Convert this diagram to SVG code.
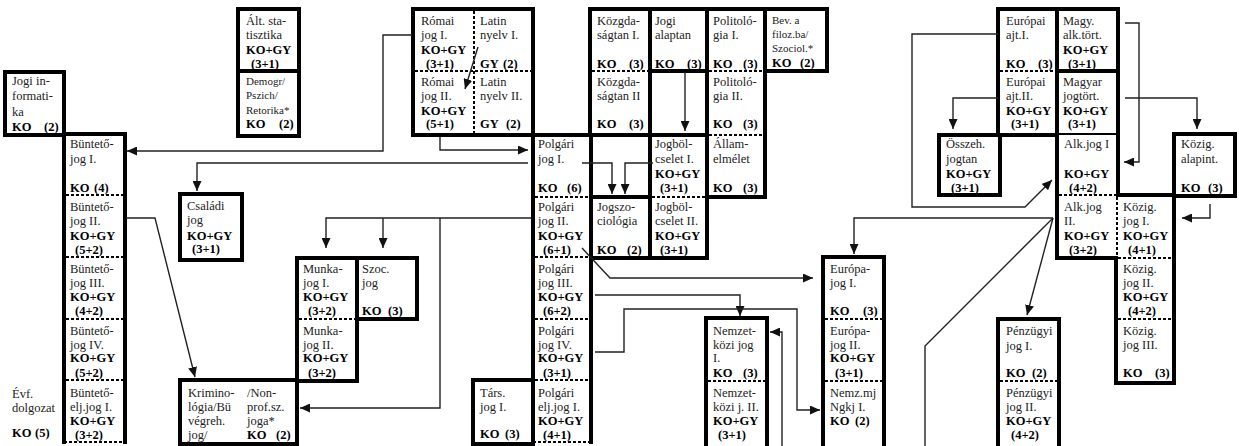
<svg xmlns="http://www.w3.org/2000/svg" width="1239" height="446" viewBox="0 0 1239 446">
<style>
.t{font-family:"Liberation Serif","Times New Roman",serif;font-size:12.5px;fill:#222}
.b{font-weight:bold;fill:#000}
.s{font-size:11px}
.bx{fill:#fff;stroke:#000;stroke-width:4}
.th{fill:none;stroke:#000;stroke-width:4;stroke-linecap:square}
.dv{fill:none;stroke:#000;stroke-width:2;stroke-dasharray:3 2}
.c{fill:none;stroke:#222;stroke-width:1.4}
.a{marker-end:url(#ah)}
</style>
<defs>
<marker id="ah" markerUnits="userSpaceOnUse" markerWidth="10" markerHeight="9" refX="10" refY="4.5" orient="auto"><path d="M0,0 L10,4.5 L0,9 z" fill="#111"/></marker>
</defs>
<rect width="1239" height="446" fill="#fff"/>

<g id="jogi-informatika">
<rect class="bx" x="5" y="72" width="59" height="63"/>
<text class="t" x="12" y="85">Jogi in-</text><text class="t" x="12" y="100">formati-</text><text class="t" x="12" y="116">ka</text>
<text class="t b" x="12" y="131">KO<tspan x="44">(2)</tspan></text>
</g>

<g id="evf-dolgozat">
<text class="t" x="12" y="398">Évf.</text><text class="t" x="12" y="412">dolgozat</text>
<text class="t b" x="12" y="437">KO<tspan x="35">(5)</tspan></text>
</g>

<g id="buntetojog">
<rect x="64" y="134" width="61" height="308" fill="#fff"/>
<path class="th" d="M64,442 V134 H125 V442"/>
<path class="dv" d="M66,195 H123 M66,257 H123 M66,319 H123 M66,380 H123 M64,442 H125"/>
<g id="buntetojog-1"><text class="t" x="70" y="148">Büntető-</text><text class="t" x="70" y="163">jog I.</text><text class="t b" x="70" y="192">KO<tspan x="94">(4)</tspan></text></g>
<g id="buntetojog-2"><text class="t" x="70" y="211">Büntető-</text><text class="t" x="70" y="225">jog II.</text><text class="t b" x="70" y="240">KO+GY</text><text class="t b" x="75" y="254">(5+2)</text></g>
<g id="buntetojog-3"><text class="t" x="70" y="273">Büntető-</text><text class="t" x="70" y="287">jog III.</text><text class="t b" x="70" y="301">KO+GY</text><text class="t b" x="75" y="315">(4+2)</text></g>
<g id="buntetojog-4"><text class="t" x="70" y="335">Büntető-</text><text class="t" x="70" y="349">jog IV.</text><text class="t b" x="70" y="362">KO+GY</text><text class="t b" x="75" y="377">(5+2)</text></g>
<g id="buntetoelj-1"><text class="t" x="70" y="397">Büntető-</text><text class="t" x="70" y="411">elj.jog I.</text><text class="t b" x="70" y="425">KO+GY</text><text class="t b" x="75" y="439">(3+2)</text></g>
</g>

<g id="alt-statisztika">
<rect class="bx" x="238" y="9" width="61" height="127"/>
<path class="th" d="M238,71 H299"/>
<g id="statisztika"><text class="t" x="246" y="25">Ált. sta-</text><text class="t" x="246" y="39">tisztika</text><text class="t b" x="246" y="54">KO+GY</text><text class="t b" x="251" y="68">(3+1)</text></g>
<g id="demogr"><text class="t s" x="246" y="85">Demogr/</text><text class="t s" x="246" y="99">Pszich/</text><text class="t s" x="246" y="114">Retorika*</text><text class="t b" x="246" y="128">KO<tspan x="279">(2)</tspan></text></g>
</g>

<g id="romai-latin">
<rect class="bx" x="413" y="9" width="120" height="126"/>
<path class="dv" d="M474,11 V133"/>
<path class="dv" d="M415,71 H531"/>
<g id="romai-1"><text class="t" x="421" y="25">Római</text><text class="t" x="421" y="39">jog I.</text><text class="t b" x="421" y="54">KO+GY</text><text class="t b" x="426" y="68">(3+1)</text></g>
<g id="latin-1"><text class="t" x="480" y="25">Latin</text><text class="t" x="480" y="39">nyelv I.</text><text class="t b" x="480" y="68">GY<tspan x="503">(2)</tspan></text></g>
<g id="romai-2"><text class="t" x="421" y="86">Római</text><text class="t" x="421" y="100">jog II.</text><text class="t b" x="421" y="115">KO+GY</text><text class="t b" x="426" y="128">(5+1)</text></g>
<g id="latin-2"><text class="t" x="480" y="86">Latin</text><text class="t" x="480" y="100">nyelv II.</text><text class="t b" x="480" y="128">GY<tspan x="506">(2)</tspan></text></g>
</g>

<g id="kozgazdasagtan">
<rect class="bx" x="590" y="9" width="60" height="126"/>
<path class="dv" d="M592,71 H648"/>
<g id="kozgazdasagtan-1"><text class="t" x="597" y="25">Közgda-</text><text class="t" x="597" y="39">ságtan I.</text><text class="t b" x="597" y="68">KO<tspan x="629">(3)</tspan></text></g>
<g id="kozgazdasagtan-2"><text class="t" x="597" y="86">Közgda-</text><text class="t" x="597" y="100">ságtan II</text><text class="t b" x="597" y="128">KO<tspan x="629">(3)</tspan></text></g>
</g>

<g id="jogi-alaptan">
<rect class="bx" x="650" y="9" width="57" height="62"/>
<rect class="bx" x="650" y="71" width="57" height="64"/>
<text class="t" x="655" y="25">Jogi</text><text class="t" x="655" y="39">alaptan</text><text class="t b" x="655" y="68">KO<tspan x="687">(3)</tspan></text>
</g>

<g id="politologia">
<rect class="bx" x="707" y="9" width="58" height="188"/>
<path class="dv" d="M709,71 H763 M709,135 H763"/>
<g id="politologia-1"><text class="t" x="713" y="25">Politoló-</text><text class="t" x="713" y="39">gia I.</text><text class="t b" x="713" y="68">KO<tspan x="743">(3)</tspan></text></g>
<g id="politologia-2"><text class="t" x="713" y="86">Politoló-</text><text class="t" x="713" y="100">gia II.</text><text class="t b" x="713" y="128">KO<tspan x="743">(3)</tspan></text></g>
<g id="allamelmelet"><text class="t" x="713" y="148">Állam-</text><text class="t" x="713" y="163">elmélet</text><text class="t b" x="713" y="192">KO<tspan x="743">(3)</tspan></text></g>
</g>

<g id="bev-filoz">
<rect class="bx" x="765" y="9" width="62" height="62"/>
<text class="t s" x="772" y="24">Bev. a</text><text class="t s" x="772" y="38">filoz.ba/</text><text class="t s" x="772" y="52">Szociol.*</text><text class="t b" x="772" y="67">KO<tspan x="800">(2)</tspan></text>
</g>

<g id="polgari">
<rect x="533" y="135" width="58" height="307" fill="#fff"/>
<path class="th" d="M533,442 V135 H591 V442"/>
<path class="dv" d="M535,197 H589 M535,257 H589 M535,319 H589 M535,380 H589 M533,442 H591"/>
<g id="polgari-1"><text class="t" x="538" y="148">Polgári</text><text class="t" x="538" y="163">jog I.</text><text class="t b" x="538" y="192">KO<tspan x="567">(6)</tspan></text></g>
<g id="polgari-2"><text class="t" x="538" y="211">Polgári</text><text class="t" x="538" y="225">jog II.</text><text class="t b" x="538" y="240">KO+GY</text><text class="t b" x="543" y="254">(6+1)</text></g>
<g id="polgari-3"><text class="t" x="538" y="273">Polgári</text><text class="t" x="538" y="287">jog III.</text><text class="t b" x="538" y="301">KO+GY</text><text class="t b" x="543" y="315">(6+2)</text></g>
<g id="polgari-4"><text class="t" x="538" y="335">Polgári</text><text class="t" x="538" y="349">jog IV.</text><text class="t b" x="538" y="362">KO+GY</text><text class="t b" x="543" y="377">(3+1)</text></g>
<g id="polgari-elj"><text class="t" x="538" y="397">Polgári</text><text class="t" x="538" y="411">elj.jog I.</text><text class="t b" x="538" y="425">KO+GY</text><text class="t b" x="543" y="439">(4+1)</text></g>
</g>

<g id="ures-cella"><rect class="bx" x="591" y="135" width="59" height="62"/></g>

<g id="jogszociologia">
<rect class="bx" x="591" y="197" width="59" height="61"/>
<text class="t" x="597" y="211">Jogszo-</text><text class="t" x="597" y="225">ciológia</text><text class="t b" x="597" y="254">KO<tspan x="627">(2)</tspan></text>
</g>

<g id="jogbolcselet">
<rect class="bx" x="650" y="135" width="57" height="123"/>
<path class="dv" d="M652,197 H705"/>
<g id="jogbolcselet-1"><text class="t" x="655" y="148">Jogböl-</text><text class="t" x="655" y="163">cselet I.</text><text class="t b" x="655" y="178">KO+GY</text><text class="t b" x="660" y="192">(3+1)</text></g>
<g id="jogbolcselet-2"><text class="t" x="655" y="211">Jogböl-</text><text class="t" x="655" y="225">cselet II.</text><text class="t b" x="655" y="240">KO+GY</text><text class="t b" x="660" y="254">(3+1)</text></g>
</g>

<g id="csaladi-jog">
<rect class="bx" x="180" y="194" width="62" height="66"/>
<text class="t" x="187" y="210">Családi</text><text class="t" x="187" y="224">jog</text><text class="t b" x="187" y="240">KO+GY</text><text class="t b" x="192" y="253">(3+1)</text>
</g>

<g id="munkajog">
<rect class="bx" x="297" y="258" width="60" height="123"/>
<path class="dv" d="M299,319 H355"/>
<g id="munkajog-1"><text class="t" x="303" y="273">Munka-</text><text class="t" x="303" y="287">jog I.</text><text class="t b" x="303" y="301">KO+GY</text><text class="t b" x="308" y="315">(3+2)</text></g>
<g id="munkajog-2"><text class="t" x="303" y="335">Munka-</text><text class="t" x="303" y="349">jog II.</text><text class="t b" x="303" y="362">KO+GY</text><text class="t b" x="308" y="377">(3+2)</text></g>
</g>

<g id="szoc-jog">
<rect class="bx" x="357" y="258" width="60" height="61"/>
<text class="t" x="362" y="273">Szoc.</text><text class="t" x="362" y="287">jog</text><text class="t b" x="362" y="315">KO<tspan x="388">(3)</tspan></text>
</g>

<g id="kriminologia">
<rect class="bx" x="180" y="380" width="117" height="64"/>
<text class="t" x="188" y="397">Krimino-</text><text class="t" x="188" y="411">lógia/Bü</text><text class="t" x="188" y="425">végreh.</text><text class="t" x="188" y="439">jog/</text>
<text class="t" x="247" y="397">/Non-</text><text class="t" x="247" y="411">prof.sz.</text><text class="t" x="247" y="425">joga*</text><text class="t b" x="247" y="439">KO<tspan x="276">(2)</tspan></text>
</g>

<g id="tarsasagi-jog">
<rect class="bx" x="473" y="380" width="60" height="64"/>
<text class="t" x="480" y="397">Társ.</text><text class="t" x="480" y="411">jog I.</text><text class="t b" x="480" y="438">KO<tspan x="505">(3)</tspan></text>
</g>

<g id="nemzetkozi-jog">
<rect class="bx" x="706" y="318" width="61" height="140"/>
<path class="dv" d="M708,381 H765"/>
<g id="nemzetkozi-1"><text class="t" x="713" y="335">Nemzet-</text><text class="t" x="713" y="349">közi jog</text><text class="t" x="713" y="362">I.</text><text class="t b" x="713" y="377">KO<tspan x="743">(3)</tspan></text></g>
<g id="nemzetkozi-2"><text class="t" x="713" y="397">Nemzet-</text><text class="t" x="713" y="411">közi j. II.</text><text class="t b" x="713" y="425">KO+GY</text><text class="t b" x="718" y="439">(3+1)</text></g>
</g>

<g id="europajog">
<rect class="bx" x="823" y="257" width="61" height="201"/>
<path class="dv" d="M825,319 H882 M825,381 H882"/>
<g id="europajog-1"><text class="t" x="830" y="273">Európa-</text><text class="t" x="830" y="287">jog I.</text><text class="t b" x="830" y="315">KO<tspan x="863">(3)</tspan></text></g>
<g id="europajog-2"><text class="t" x="830" y="335">Európa-</text><text class="t" x="830" y="349">jog II.</text><text class="t b" x="830" y="362">KO+GY</text><text class="t b" x="835" y="377">(3+1)</text></g>
<g id="nemz-mj"><text class="t" x="830" y="397">Nemz.mj</text><text class="t" x="830" y="411">Ngkj I.</text><text class="t b" x="830" y="425">KO<tspan x="855">(2)</tspan></text></g>
</g>

<g id="europai-magy">
<rect class="bx" x="998" y="9" width="120" height="126"/>
<path class="th" d="M1057,9 V135 M1057,71 H1118"/>
<path class="dv" d="M1000,71 H1055"/>
<g id="europai-1"><text class="t" x="1006" y="25">Európai</text><text class="t" x="1006" y="39">ajt.I.</text><text class="t b" x="1006" y="68">KO<tspan x="1038">(3)</tspan></text></g>
<g id="magy-alk"><text class="t" x="1063" y="25">Magy.</text><text class="t" x="1063" y="39">alk.tört.</text><text class="t b" x="1063" y="54">KO+GY</text><text class="t b" x="1068" y="68">(3+1)</text></g>
<g id="europai-2"><text class="t" x="1006" y="86">Európai</text><text class="t" x="1006" y="100">ajt.II.</text><text class="t b" x="1006" y="115">KO+GY</text><text class="t b" x="1011" y="128">(3+1)</text></g>
<g id="magyar-jogtort"><text class="t" x="1063" y="86">Magyar</text><text class="t" x="1063" y="100">jogtört.</text><text class="t b" x="1063" y="115">KO+GY</text><text class="t b" x="1068" y="128">(3+1)</text></g>
</g>

<g id="osszeh-jogtan">
<rect class="bx" x="939" y="135" width="61" height="60"/>
<text class="t" x="946" y="148">Összeh.</text><text class="t" x="946" y="163">jogtan</text><text class="t b" x="946" y="178">KO+GY</text><text class="t b" x="951" y="192">(3+1)</text>
</g>

<g id="alkotmanyjog-kozig">
<rect x="1057" y="135" width="61" height="123" fill="#fff"/>
<rect x="1116" y="195" width="58" height="188" fill="#fff"/>
<path class="th" d="M1057,135 V258 H1116 V383 H1174 V195 H1118 V135"/>
<path class="dv" d="M1059,195 H1116"/>
<path class="dv" d="M1117,197 V256"/>
<path class="dv" d="M1118,258 H1172 M1118,319 H1172"/>
<g id="alkjog-1"><text class="t" x="1064" y="148">Alk.jog I</text><text class="t b" x="1064" y="178">KO+GY</text><text class="t b" x="1069" y="192">(4+2)</text></g>
<g id="alkjog-2"><text class="t" x="1064" y="211">Alk.jog</text><text class="t" x="1064" y="225">II.</text><text class="t b" x="1064" y="240">KO+GY</text><text class="t b" x="1069" y="254">(3+2)</text></g>
<g id="kozig-1"><text class="t" x="1123" y="211">Közig.</text><text class="t" x="1123" y="225">jog I.</text><text class="t b" x="1123" y="240">KO+GY</text><text class="t b" x="1128" y="254">(4+1)</text></g>
<g id="kozig-2"><text class="t" x="1123" y="273">Közig.</text><text class="t" x="1123" y="287">jog II.</text><text class="t b" x="1123" y="301">KO+GY</text><text class="t b" x="1128" y="315">(4+2)</text></g>
<g id="kozig-3"><text class="t" x="1123" y="335">Közig.</text><text class="t" x="1123" y="349">jog III.</text><text class="t b" x="1123" y="377">KO<tspan x="1155">(3)</tspan></text></g>
</g>

<g id="kozig-alapint">
<rect class="bx" x="1174" y="134" width="61" height="62"/>
<text class="t" x="1181" y="148">Közig.</text><text class="t" x="1181" y="163">alapint.</text><text class="t b" x="1181" y="192">KO<tspan x="1208">(3)</tspan></text>
</g>

<g id="penzugyi-jog">
<rect class="bx" x="998" y="319" width="61" height="140"/>
<path class="dv" d="M1000,381 H1057"/>
<g id="penzugyi-1"><text class="t" x="1006" y="335">Pénzügyi</text><text class="t" x="1006" y="350">jog I.</text><text class="t b" x="1006" y="377">KO<tspan x="1032">(2)</tspan></text></g>
<g id="penzugyi-2"><text class="t" x="1006" y="397">Pénzügyi</text><text class="t" x="1006" y="411">jog II.</text><text class="t b" x="1006" y="425">KO+GY</text><text class="t b" x="1011" y="439">(4+2)</text></g>
</g>

<g id="connectors">
<path class="c a" d="M412,35 H383 V151 H127"/>
<path class="c a" d="M440,137 V150 H528"/>
<path class="c a" d="M478,47 L465,89"/>
<path class="c a" d="M528,163 H197 V191"/>
<path class="c a" d="M582,163 H612 V194"/>
<path class="c a" d="M653,163 H625 V194"/>
<path class="c a" d="M685,72 V131"/>
<path class="c a" d="M126,218 H155 L195,377"/>
<path class="c a" d="M531,218 H326 V248"/>
<path class="c a" d="M383,218 V248"/>
<path class="c a" d="M440,218 V408 H300"/>
<path class="c a" d="M582,248 L610,278 H813"/>
<path class="c a" d="M595,295 H740 V316"/>
<path class="c a" d="M595,352 H624 V309 H797 V410 H820"/>
<path class="c a" d="M782,446 V332 H770"/>
<path class="c a" d="M1053,218 H854 V254"/>
<path class="c" d="M1053,218 L925,346 V446"/>
<path class="c a" d="M1053,218 L1027,315"/>
<path class="c a" d="M998,34 H912 V207 H1025 L1052,180"/>
<path class="c a" d="M998,98 H953 V129"/>
<path class="c a" d="M1125,23 H1139 V162 H1124"/>
<path class="c a" d="M1125,98 H1197 V129"/>
<path class="c a" d="M1210,204 V218 H1182"/>
</g>
</svg>
